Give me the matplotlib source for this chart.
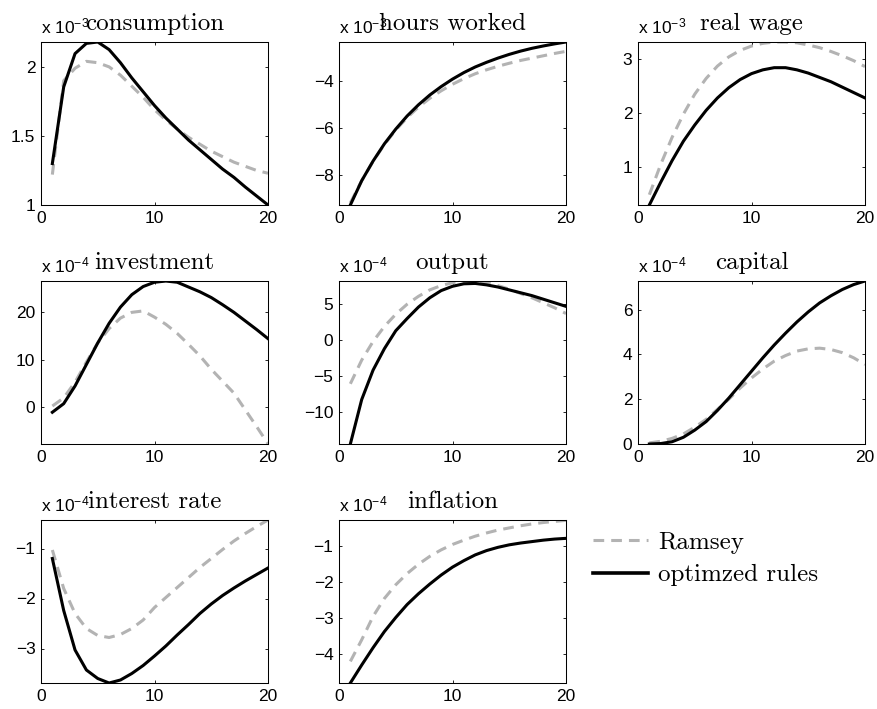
import matplotlib
matplotlib.use('Agg')
from matplotlib import pyplot as plt
from matplotlib.lines import Line2D

plt.rcParams['font.family'] = 'Liberation Sans'
plt.rcParams['mathtext.fontset'] = 'custom'
plt.rcParams['mathtext.rm'] = 'Liberation Sans'
plt.rcParams['mathtext.it'] = 'Liberation Sans:italic'
plt.rcParams['mathtext.bf'] = 'Liberation Sans:bold'
plt.rcParams['axes.linewidth'] = 0.75

# horizon
t = list(range(1, 21))

# impulse responses, Ramsey vs optimized rules
consumption_ramsey = [1.22, 1.90, 1.99, 2.04, 2.03, 2.00, 1.94, 1.86, 1.78, 1.69,
                      1.615, 1.55, 1.49, 1.44, 1.39, 1.35, 1.31, 1.28, 1.25, 1.23]
consumption_opt = [1.30, 1.855, 2.096, 2.17, 2.18, 2.125, 2.03, 1.92, 1.82, 1.72,
                   1.63, 1.55, 1.47, 1.40, 1.33, 1.26, 1.20, 1.13, 1.065, 1.00]
hours_ramsey = [-9.2, -8.25, -7.42, -6.70, -6.08, -5.55, -5.10, -4.72, -4.40, -4.12,
                -3.88, -3.67, -3.50, -3.35, -3.22, -3.10, -3.00, -2.90, -2.80, -2.71]
hours_opt = [-9.29, -8.25, -7.41, -6.67, -6.04, -5.48, -5.00, -4.58, -4.22, -3.90,
             -3.62, -3.38, -3.18, -3.00, -2.84, -2.70, -2.58, -2.48, -2.39, -2.31]
wage_ramsey = [0.49, 1.05, 1.55, 1.98, 2.35, 2.64, 2.87, 3.04, 3.16, 3.24,
               3.29, 3.315, 3.315, 3.30, 3.26, 3.21, 3.14, 3.06, 2.97, 2.86]
wage_opt = [0.30, 0.72, 1.12, 1.48, 1.78, 2.05, 2.28, 2.47, 2.62, 2.73,
            2.80, 2.84, 2.84, 2.80, 2.74, 2.66, 2.58, 2.48, 2.38, 2.28]
invest_ramsey = [0.3, 2.0, 5.3, 9.5, 13.5, 16.5, 18.7, 19.9, 20.2, 18.9,
                 17.4, 15.5, 13.2, 10.8, 8.0, 5.5, 3.0, -0.5, -4.0, -7.6]
invest_opt = [-1.0, 0.8, 4.5, 9.0, 13.5, 17.6, 21.0, 23.6, 25.3, 26.2,
              26.45, 26.2, 25.2, 24.2, 23.0, 21.5, 19.9, 18.1, 16.3, 14.4]
output_ramsey = [-6.1, -2.8, -0.2, 1.9, 3.6, 5.0, 6.1, 7.0, 7.6, 8.0,
                 8.2, 8.2, 8.0, 7.6, 7.1, 6.5, 5.9, 5.2, 4.5, 3.7]
output_opt = [-14.5, -8.3, -4.2, -1.2, 1.3, 3.0, 4.6, 5.9, 6.9, 7.5,
              7.85, 7.9, 7.7, 7.4, 7.0, 6.6, 6.2, 5.7, 5.2, 4.7]
capital_ramsey = [0.05, 0.12, 0.25, 0.45, 0.75, 1.1, 1.55, 2.0, 2.5, 2.95,
                  3.35, 3.7, 3.95, 4.15, 4.25, 4.28, 4.22, 4.08, 3.85, 3.55]
capital_opt = [0.0, 0.02, 0.1, 0.3, 0.62, 1.0, 1.5, 2.05, 2.65, 3.25,
               3.85, 4.42, 4.95, 5.45, 5.9, 6.3, 6.62, 6.9, 7.12, 7.28]
rate_ramsey = [-1.03, -1.8, -2.3, -2.6, -2.74, -2.78, -2.72, -2.6, -2.43, -2.18,
               -1.98, -1.78, -1.58, -1.38, -1.2, -1.02, -0.85, -0.70, -0.56, -0.43]
rate_opt = [-1.2, -2.24, -3.03, -3.43, -3.6, -3.69, -3.63, -3.5, -3.34, -3.15,
            -2.95, -2.73, -2.52, -2.30, -2.11, -1.94, -1.79, -1.65, -1.52, -1.39]
infl_ramsey = [-4.2, -3.6, -2.95, -2.45, -2.07, -1.76, -1.5, -1.28, -1.1, -0.95,
               -0.83, -0.72, -0.63, -0.55, -0.49, -0.43, -0.38, -0.34, -0.31, -0.28]
infl_opt = [-4.8, -4.3, -3.82, -3.37, -2.98, -2.62, -2.32, -2.05, -1.8, -1.58,
            -1.4, -1.24, -1.12, -1.03, -0.96, -0.91, -0.87, -0.83, -0.8, -0.78]

panels = [
    ('consumption', '-3', consumption_ramsey, consumption_opt, [1, 1.5, 2], ['1', '1.5', '2'], (1.0, 2.18)),
    ('hours worked', '-3', hours_ramsey, hours_opt, [-8, -6, -4], None, (-9.29, -2.31)),
    ('real wage', '-3', wage_ramsey, wage_opt, [1, 2, 3], None, (0.30, 3.315)),
    ('investment', '-4', invest_ramsey, invest_opt, [0, 10, 20], None, (-7.64, 26.46)),
    ('output', '-4', output_ramsey, output_opt, [-10, -5, 0, 5], None, (-14.5, 8.24)),
    ('capital', '-4', capital_ramsey, capital_opt, [0, 2, 4, 6], None, (0.0, 7.28)),
    ('interest rate', '-4', rate_ramsey, rate_opt, [-3, -2, -1], None, (-3.69, -0.43)),
    ('inflation', '-4', infl_ramsey, infl_opt, [-4, -3, -2, -1], None, (-4.8, -0.27)),
]

W, H = 878, 709
fig = plt.figure(figsize=(W / 100, H / 100), dpi=100)

col_left = [41, 339, 638]
row_top = [42, 281, 520]
aw, ah = 227, 163

ramsey_col = '#b3b3b3'
dash = (0, (3.5, 2.3))

for k, (name, expo, ram, opt, yt, ytl, ylim) in enumerate(panels):
    r, c = divmod(k, 3)
    ax = fig.add_axes([col_left[c] / W, (H - row_top[r] - ah) / H, aw / W, ah / H])
    ax.plot(t, ram, color=ramsey_col, lw=2.2, linestyle=dash, label='Ramsey')
    ax.plot(t, opt, color='black', lw=2.2, label='optimzed rules')
    ax.set_xlim(0, 20)
    ax.set_ylim(*ylim)
    ax.set_xticks([0, 10, 20])
    ax.set_yticks(yt)
    if ytl is not None:
        ax.set_yticklabels(ytl)
    ax.tick_params(direction='in', top=True, right=True, length=2.5, width=0.6,
                   labelsize=12.5, pad=4)
    ax.text(0.5, 1 + 12 / ah, name, transform=ax.transAxes, ha='center', va='baseline',
            fontsize=18, family='cmr10')
    ax.text(0.0, 1 + 9 / ah, 'x 10$^{' + expo + '}$', transform=ax.transAxes,
            ha='left', va='baseline', fontsize=12.5)

handles = [Line2D([], [], color=ramsey_col, lw=2.2, linestyle=dash),
           Line2D([], [], color='black', lw=2.6)]
fig.legend(handles, ['Ramsey', 'optimzed rules'], loc='upper left',
           bbox_to_anchor=(593 / W, 1 - 531 / H), frameon=False,
           prop={'family': 'cmr10', 'size': 18}, handlelength=2.2,
           handletextpad=0.4, labelspacing=0.42, borderpad=0, borderaxespad=0)

fig.savefig('out.png', dpi=100)
